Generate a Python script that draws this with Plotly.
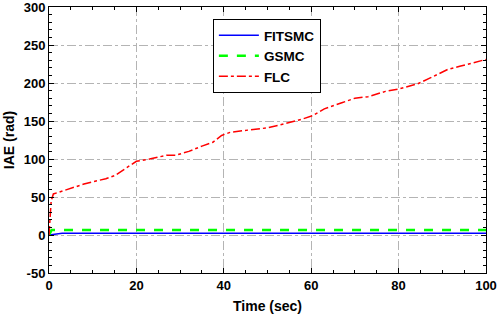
import plotly.graph_objects as go

# Time samples (sec)
t_flc = [0, 0.2, 0.5, 1, 3, 5, 8, 10, 13, 15, 16, 17, 18, 20, 23, 27, 29, 32, 35, 37.5, 39.5, 41.4,
         45.5, 50, 53, 57.7, 60.3, 63, 67, 70, 73, 77, 80, 84.4, 87, 89, 91.3, 94, 96, 100]
flc = [0, 20, 45, 54, 58, 62, 67, 70, 74, 78, 82, 86, 90, 97, 100, 105, 105, 110, 117, 122, 131, 135,
       138, 141, 145, 152, 157, 166, 174, 180, 182, 189, 192, 199, 206, 212, 218, 222, 225, 231]

t_gsmc = [0, 0.3, 0.6, 2, 100]
gsmc = [0, 4, 6.5, 6.5, 6.5]

t_fitsmc = [0, 0.5, 1, 2, 3, 100]
fitsmc = [0, 0.5, 1.2, 2, 2.2, 2.2]

x_ticks = [0, 20, 40, 60, 80, 100]
y_ticks = [-50, 0, 50, 100, 150, 200, 250, 300]

fig = go.Figure()
fig.add_trace(go.Scatter(x=t_fitsmc, y=fitsmc, mode="lines", name="FITSMC",
                         line=dict(color="#0000ff", width=1.5)))
fig.add_trace(go.Scatter(x=t_gsmc, y=gsmc, mode="lines", name="GSMC",
                         line=dict(color="#00ff00", width=2.5, dash="dash")))
fig.add_trace(go.Scatter(x=t_flc, y=flc, mode="lines", name="FLC",
                         line=dict(color="#ff0000", width=1.5, dash="dashdot")))

fam = "Liberation Sans, Arial, sans-serif"
tick_font = dict(family=fam, size=13, color="black", weight="bold")
title_font = dict(family=fam, size=14, color="black", weight="bold")
legend_font = dict(family=fam, size=13.5, color="black", weight="bold")

axis_common = dict(
    showline=True, linecolor="black", linewidth=1, mirror="allticks",
    ticks="inside", ticklen=5, tickcolor="black",
    showgrid=True, gridcolor="#b4b4b4", griddash="dashdot", gridwidth=1,
    zeroline=False, tickfont=tick_font, automargin=False,
    ticklabeloverflow="allow",
)

fig.update_xaxes(range=[0, 100], tickvals=x_ticks, ticktext=[str(v) for v in x_ticks],
                 title=dict(text="Time (sec)", font=title_font, standoff=9),
                 minor=dict(ticks="inside", dtick=5, ticklen=3, tickcolor="black", showgrid=False),
                 **axis_common)
fig.update_yaxes(range=[-50, 300], tickvals=y_ticks, ticktext=[str(v) for v in y_ticks],
                 title=dict(text="IAE (rad)", font=title_font, standoff=5),
                 minor=dict(ticks="inside", dtick=10, ticklen=3, tickcolor="black", showgrid=False),
                 **axis_common)

fig.update_layout(
    width=498, height=317,
    margin=dict(l=49, r=12, t=7, b=44, autoexpand=False),
    paper_bgcolor="white", plot_bgcolor="white",
    font=tick_font,
    legend=dict(x=0.375, y=0.955, xanchor="left", yanchor="top",
                bgcolor="white", bordercolor="black", borderwidth=1,
                font=legend_font, tracegroupgap=0, itemwidth=40),
    showlegend=True,
)

fig.write_html("out.html", config={"displayModeBar": False},
               post_script="document.body.style.margin='0';document.body.style.overflow='hidden';")
